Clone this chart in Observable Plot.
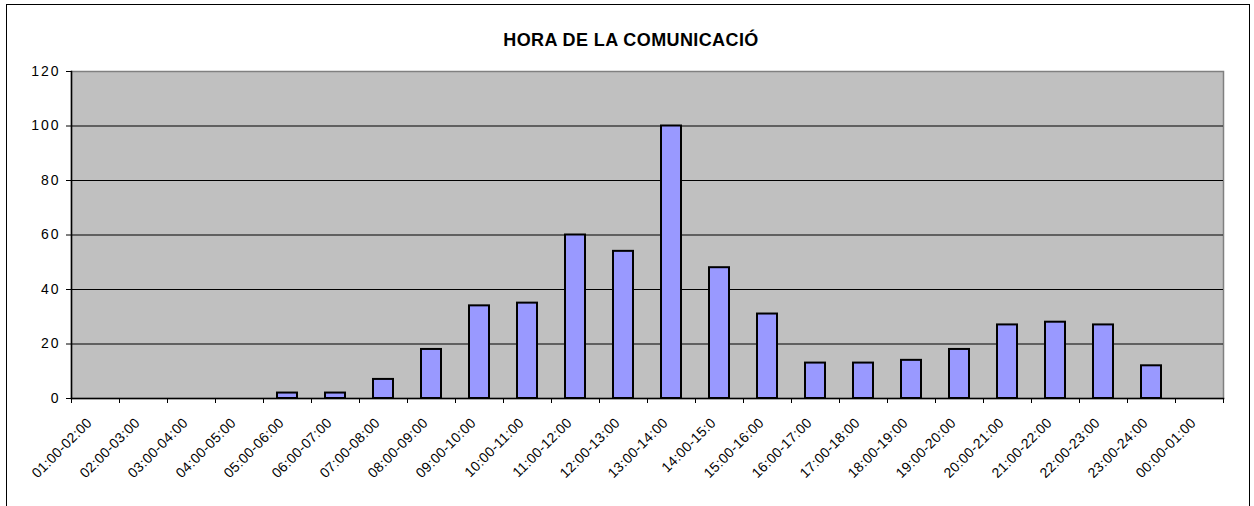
<!DOCTYPE html>
<html>
<head>
<meta charset="utf-8">
<script src="https://cdn.jsdelivr.net/npm/d3@7"></script>
<script src="https://cdn.jsdelivr.net/npm/@observablehq/plot@0.6"></script>
<style>
  html, body { margin: 0; padding: 0; background: #fff; overflow: hidden; }
  #wrap { position: relative; width: 1254px; height: 506px; font-family: "Liberation Sans", Arial, sans-serif; }
  #frame { position: absolute; left: 6px; top: 4px; width: 1244px; height: 530px; border: 1px solid #000; box-sizing: border-box; pointer-events: none; }
  #title { position: absolute; left: 0; width: 1262px; top: 29px; text-align: center; font-weight: bold; font-size: 18px; letter-spacing: 0.4px; color: #000; line-height: 22px; }
  #chart { position: absolute; left: 0; top: 0; }
</style>
</head>
<body>
<div id="wrap">
  <div id="frame"></div>
  <div id="title">HORA DE LA COMUNICACIÓ</div>
  <div id="chart"></div>
</div>
<script>
const categories = ["01:00-02:00","02:00-03:00","03:00-04:00","04:00-05:00","05:00-06:00","06:00-07:00","07:00-08:00","08:00-09:00","09:00-10:00","10:00-11:00","11:00-12:00","12:00-13:00","13:00-14:00","14:00-15:0","15:00-16:00","16:00-17:00","17:00-18:00","18:00-19:00","19:00-20:00","20:00-21:00","21:00-22:00","22:00-23:00","23:00-24:00","00:00-01:00"];
const values = [0,0,0,0,2,2,7,18,34,35,60,54,100,48,31,13,13,14,18,27,28,27,12,0];
const yTicks = [0,20,40,60,80,100,120];
const gridLines = [20,40,60,80,100];

const data = categories.map((c, i) => ({cat: c, v: values[i]}));

const W = 1254, H = 506, ML = 71, MR = 31, MT = 71, MB = 108;
const step = (W - ML - MR) / categories.length;

const chart = Plot.plot({
  width: W,
  height: H,
  marginLeft: ML,
  marginRight: MR,
  marginTop: MT,
  marginBottom: MB,
  style: {fontFamily: "'Liberation Sans', Arial, sans-serif", background: "transparent", overflow: "visible", color: "#000"},
  x: {domain: categories, paddingInner: 0.58, paddingOuter: 0.29, label: null},
  y: {domain: [0, 120], label: null},
  marks: [
    Plot.frame({fill: "#c0c0c0", stroke: "#808080", strokeWidth: 1.5}),
    Plot.ruleY(gridLines, {stroke: "#000", strokeWidth: 1}),
    Plot.barY(data, {x: "cat", y: "v", fill: "#9999ff", stroke: "#000", strokeWidth: 2}),
    Plot.frame({anchor: "left", stroke: "#000", strokeWidth: 1.5}),
    Plot.frame({anchor: "bottom", stroke: "#000", strokeWidth: 1.5}),
    Plot.axisY({ticks: yTicks, tickSize: 5, tickPadding: 6, fontSize: 14, stroke: "#000", fill: "#000", label: null}),
    Plot.axisX({tickSize: 5, text: null, dx: -step / 2, stroke: "#000"}),
    Plot.axisX([categories[categories.length - 1]], {tickSize: 5, text: null, dx: step / 2, stroke: "#000"}),
    Plot.axisX({tickSize: 0, tickRotate: -45, tickPadding: 14, dx: -6, dy: 8, fontSize: 14, fill: "#000", label: null})
  ]
});
d3.select(chart).selectAll("g[aria-label='y-axis tick label'] text").style("letter-spacing", "2px");
d3.select(chart).selectAll("g[aria-label='x-axis tick label'] text").style("letter-spacing", "0.3px");
document.getElementById("chart").appendChild(chart);
</script>
</body>
</html>
